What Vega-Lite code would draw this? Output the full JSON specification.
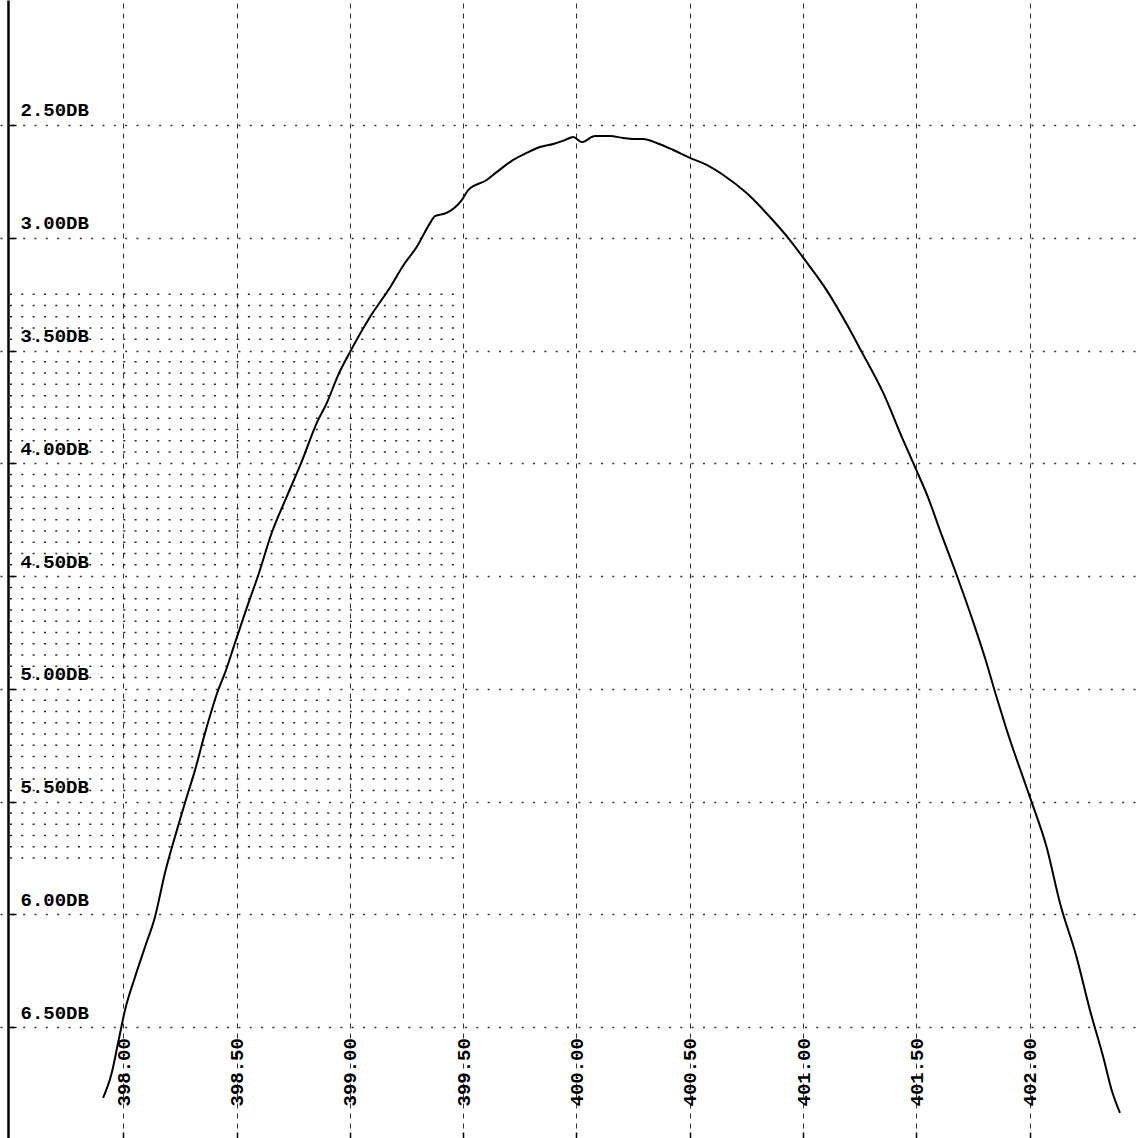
{
  "$schema": "https://vega.github.io/schema/vega-lite/v6.json",
  "width": 1137,
  "height": 1138,
  "autosize": "none",
  "padding": 0,
  "background": "white",
  "config": {"view": {"stroke": null}},
  "datasets": {
    "curve": [
      {"f": 397.911, "loss": 6.813}, {"f": 397.949, "loss": 6.703}, {"f": 397.977, "loss": 6.570},
      {"f": 398.008, "loss": 6.423}, {"f": 398.052, "loss": 6.277}, {"f": 398.096, "loss": 6.144},
      {"f": 398.140, "loss": 6.011}, {"f": 398.184, "loss": 5.816}, {"f": 398.228, "loss": 5.656},
      {"f": 398.272, "loss": 5.506}, {"f": 398.317, "loss": 5.359}, {"f": 398.361, "loss": 5.195},
      {"f": 398.419, "loss": 5.005}, {"f": 398.449, "loss": 4.929}, {"f": 398.493, "loss": 4.796},
      {"f": 398.545, "loss": 4.641}, {"f": 398.596, "loss": 4.495}, {"f": 398.655, "loss": 4.309},
      {"f": 398.721, "loss": 4.149}, {"f": 398.787, "loss": 3.994}, {"f": 398.854, "loss": 3.821},
      {"f": 398.898, "loss": 3.733}, {"f": 398.949, "loss": 3.608}, {"f": 399.001, "loss": 3.506},
      {"f": 399.089, "loss": 3.351}, {"f": 399.170, "loss": 3.232}, {"f": 399.243, "loss": 3.112},
      {"f": 399.295, "loss": 3.041}, {"f": 399.354, "loss": 2.935}, {"f": 399.376, "loss": 2.904},
      {"f": 399.427, "loss": 2.890}, {"f": 399.494, "loss": 2.833}, {"f": 399.523, "loss": 2.788},
      {"f": 399.604, "loss": 2.744}, {"f": 399.648, "loss": 2.709}, {"f": 399.721, "loss": 2.655},
      {"f": 399.780, "loss": 2.624}, {"f": 399.839, "loss": 2.598}, {"f": 399.898, "loss": 2.584},
      {"f": 399.949, "loss": 2.567}, {"f": 399.986, "loss": 2.553}, {"f": 400.023, "loss": 2.576},
      {"f": 400.082, "loss": 2.549}, {"f": 400.148, "loss": 2.549}, {"f": 400.207, "loss": 2.558},
      {"f": 400.251, "loss": 2.562}, {"f": 400.295, "loss": 2.562}, {"f": 400.354, "loss": 2.580},
      {"f": 400.427, "loss": 2.611}, {"f": 400.501, "loss": 2.646}, {"f": 400.575, "loss": 2.677},
      {"f": 400.648, "loss": 2.722}, {"f": 400.751, "loss": 2.802}, {"f": 400.854, "loss": 2.908},
      {"f": 400.942, "loss": 3.010}, {"f": 401.009, "loss": 3.099}, {"f": 401.104, "loss": 3.232},
      {"f": 401.200, "loss": 3.396}, {"f": 401.259, "loss": 3.506}, {"f": 401.354, "loss": 3.688},
      {"f": 401.442, "loss": 3.897}, {"f": 401.494, "loss": 4.016}, {"f": 401.553, "loss": 4.154},
      {"f": 401.604, "loss": 4.296}, {"f": 401.678, "loss": 4.495}, {"f": 401.751, "loss": 4.703},
      {"f": 401.810, "loss": 4.885}, {"f": 401.854, "loss": 5.036}, {"f": 401.899, "loss": 5.182},
      {"f": 402.001, "loss": 5.479}, {"f": 402.075, "loss": 5.701}, {"f": 402.134, "loss": 5.949},
      {"f": 402.207, "loss": 6.188}, {"f": 402.266, "loss": 6.423}, {"f": 402.325, "loss": 6.632},
      {"f": 402.362, "loss": 6.778}, {"f": 402.399, "loss": 6.880}
    ],
    "dots": [
      {"loss": 3.25, "f": 397.5, "f2": 399.5}, {"loss": 3.30, "f": 397.5, "f2": 399.5}, {"loss": 3.35, "f": 397.5, "f2": 399.5},
      {"loss": 3.40, "f": 397.5, "f2": 399.5}, {"loss": 3.45, "f": 397.5, "f2": 399.5}, {"loss": 3.55, "f": 397.5, "f2": 399.5},
      {"loss": 3.60, "f": 397.5, "f2": 399.5}, {"loss": 3.65, "f": 397.5, "f2": 399.5}, {"loss": 3.70, "f": 397.5, "f2": 399.5},
      {"loss": 3.75, "f": 397.5, "f2": 399.5}, {"loss": 3.80, "f": 397.5, "f2": 399.5}, {"loss": 3.85, "f": 397.5, "f2": 399.5},
      {"loss": 3.90, "f": 397.5, "f2": 399.5}, {"loss": 3.95, "f": 397.5, "f2": 399.5}, {"loss": 4.05, "f": 397.5, "f2": 399.5},
      {"loss": 4.10, "f": 397.5, "f2": 399.5}, {"loss": 4.15, "f": 397.5, "f2": 399.5}, {"loss": 4.20, "f": 397.5, "f2": 399.5},
      {"loss": 4.25, "f": 397.5, "f2": 399.5}, {"loss": 4.30, "f": 397.5, "f2": 399.5}, {"loss": 4.35, "f": 397.5, "f2": 399.5},
      {"loss": 4.40, "f": 397.5, "f2": 399.5}, {"loss": 4.45, "f": 397.5, "f2": 399.5}, {"loss": 4.55, "f": 397.5, "f2": 399.5},
      {"loss": 4.60, "f": 397.5, "f2": 399.5}, {"loss": 4.65, "f": 397.5, "f2": 399.5}, {"loss": 4.70, "f": 397.5, "f2": 399.5},
      {"loss": 4.75, "f": 397.5, "f2": 399.5}, {"loss": 4.80, "f": 397.5, "f2": 399.5}, {"loss": 4.85, "f": 397.5, "f2": 399.5},
      {"loss": 4.90, "f": 397.5, "f2": 399.5}, {"loss": 4.95, "f": 397.5, "f2": 399.5}, {"loss": 5.05, "f": 397.5, "f2": 399.5},
      {"loss": 5.10, "f": 397.5, "f2": 399.5}, {"loss": 5.15, "f": 397.5, "f2": 399.5}, {"loss": 5.20, "f": 397.5, "f2": 399.5},
      {"loss": 5.25, "f": 397.5, "f2": 399.5}, {"loss": 5.30, "f": 397.5, "f2": 399.5}, {"loss": 5.35, "f": 397.5, "f2": 399.5},
      {"loss": 5.40, "f": 397.5, "f2": 399.5}, {"loss": 5.45, "f": 397.5, "f2": 399.5}, {"loss": 5.55, "f": 397.5, "f2": 399.5},
      {"loss": 5.60, "f": 397.5, "f2": 399.5}, {"loss": 5.65, "f": 397.5, "f2": 399.5}, {"loss": 5.70, "f": 397.5, "f2": 399.5},
      {"loss": 5.75, "f": 397.5, "f2": 399.5}
    ]
  },
  "encoding": {
    "x": {
      "field": "f", "type": "quantitative",
      "scale": {"domain": [397.456, 402.474], "nice": false, "zero": false},
      "axis": {
        "orient": "bottom", "values": [398, 398.5, 399, 399.5, 400, 400.5, 401, 401.5, 402],
        "format": ".2f", "title": null, "domain": false,
        "ticks": true, "tickSize": -6, "tickColor": "black", "tickWidth": 1.5,
        "labelAngle": 270, "labelAlign": "left", "labelBaseline": "middle", "labelPadding": -26,
        "labelFont": "Liberation Mono", "labelFontWeight": "bold", "labelFontSize": 19, "labelColor": "black",
        "labelOverlap": false, "labelFlush": false, "labelBound": false,
        "grid": true, "gridColor": "black", "gridDash": [5, 5], "gridWidth": 1, "gridOpacity": 0.8
      }
    },
    "y": {
      "field": "loss", "type": "quantitative",
      "scale": {"domain": [1.946, 6.991], "nice": false, "zero": false, "reverse": true},
      "axis": {
        "orient": "left", "offset": -8, "values": [2.5, 3, 3.5, 4, 4.5, 5, 5.5, 6, 6.5],
        "labelExpr": "format(datum.value, '.2f') + 'DB'", "title": null,
        "domain": true, "domainColor": "black", "domainWidth": 2.5,
        "ticks": true, "tickSize": -8, "tickColor": "black", "tickWidth": 1.5,
        "labelAlign": "left", "labelBaseline": "middle", "labelPadding": -4, "labelOffset": -15,
        "labelFont": "Liberation Mono", "labelFontWeight": "bold", "labelFontSize": 19, "labelColor": "black",
        "labelOverlap": false, "labelFlush": false, "labelBound": false,
        "grid": true, "gridColor": "black", "gridDash": [2, 9.33], "gridWidth": 1.5, "gridOpacity": 0.8
      }
    }
  },
  "layer": [
    {
      "data": {"name": "dots"},
      "mark": {"type": "rule", "color": "black", "strokeWidth": 1.5, "strokeDash": [2, 9.33], "opacity": 0.85},
      "encoding": {
        "x2": {"field": "f2"}
      }
    },
    {
      "data": {"name": "curve"},
      "mark": {"type": "line", "color": "black", "strokeWidth": 2, "clip": true, "interpolate": "monotone"}
    }
  ]
}
